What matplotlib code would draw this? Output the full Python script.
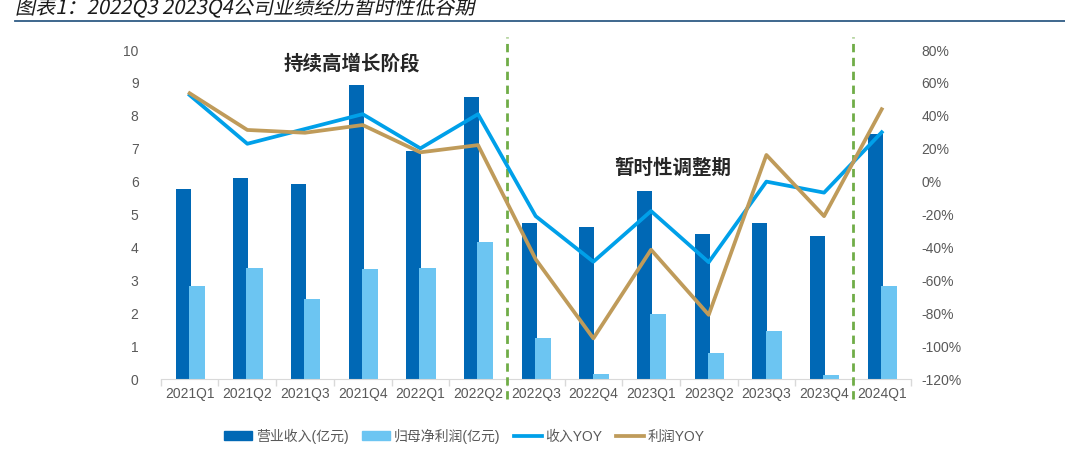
import numpy as np
import matplotlib.pyplot as plt
from matplotlib.patches import Patch, PathPatch
from matplotlib.lines import Line2D
from matplotlib.textpath import TextPath
from matplotlib.font_manager import FontProperties
from matplotlib.transforms import Affine2D
from matplotlib.ticker import FuncFormatter

plt.rcParams['font.family'] = ['Liberation Sans', 'Noto Sans CJK SC']

quarters = ['2021Q1', '2021Q2', '2021Q3', '2021Q4', '2022Q1', '2022Q2', '2022Q3',
            '2022Q4', '2023Q1', '2023Q2', '2023Q3', '2023Q4', '2024Q1']
revenue = [5.78, 6.10, 5.92, 8.94, 6.94, 8.58, 4.73, 4.63, 5.72, 4.41, 4.73, 4.36, 7.45]
profit = [2.83, 3.37, 2.42, 3.33, 3.37, 4.15, 1.25, 0.15, 1.98, 0.80, 1.47, 0.11, 2.83]
revenue_yoy = [52.6, 23.0, 32.0, 41.0, 20.2, 41.0, -21.0, -48.7, -17.9, -49.0, 0.0, -6.7, 30.0]
profit_yoy = [53.7, 31.4, 29.7, 34.4, 17.8, 22.2, -47.2, -95.3, -41.4, -81.0, 16.2, -21.0, 44.0]
dividers = [5.5, 11.5]

c_rev = '#0068B5'
c_prof = '#6CC5F2'
c_ryoy = '#00A0E9'
c_pyoy = '#BF9B5A'
c_green = '#70AD47'
c_text = '#595959'

fig = plt.figure(figsize=(10.65, 4.63), dpi=100)
ax = fig.add_axes([0.151, 0.1814, 0.704, 0.7106])
ax2 = ax.twinx()

x = np.arange(len(quarters))
ax.bar(x - 0.115, revenue, width=0.26, color=c_rev, zorder=2)
ax.bar(x + 0.125, profit, width=0.28, color=c_prof, zorder=2)

ax2.plot(x, revenue_yoy, color=c_ryoy, lw=2.7, zorder=3)
ax2.plot(x, profit_yoy, color=c_pyoy, lw=2.7, zorder=3)

ax.set_xlim(-0.5, len(quarters) - 0.5)
ax.set_ylim(0, 10)
ax.set_yticks(range(0, 11))
ax2.set_ylim(-120, 80)
ax2.set_yticks(range(-120, 81, 20))
ax2.yaxis.set_major_formatter(FuncFormatter(lambda v, p: f'{int(v)}%'))

ax.set_xticks(x)
ax.set_xticklabels(quarters)
ax.set_xticks(np.arange(-0.5, len(quarters), 1), minor=True)
ax.tick_params(axis='x', which='major', length=0, pad=6, labelsize=10, labelcolor=c_text)
ax.tick_params(axis='x', which='minor', length=5, color='#D9D9D9', width=1)
ax.tick_params(axis='y', length=0, labelsize=10, labelcolor=c_text, pad=16)
ax2.tick_params(axis='y', length=0, labelsize=10, labelcolor=c_text, pad=8)

for a in (ax, ax2):
    for side in ('top', 'left', 'right'):
        a.spines[side].set_visible(False)
ax2.spines['bottom'].set_visible(False)
ax.spines['bottom'].set_color('#D9D9D9')

for d in dividers:
    ax.axvline(d, ymin=-0.06, ymax=1.04, color=c_green, ls=(0, (3, 2)), lw=2,
               clip_on=False, zorder=4)

ax.text(2.81, 9.6, '持续高增长阶段', ha='center', va='center', fontsize=14,
        fontweight='bold', color='#262626')
ax.text(8.37, 6.41, '暂时性调整期', ha='center', va='center', fontsize=14,
        fontweight='bold', color='#262626')

# slanted title (CJK fonts have no italic face)
title = '图表1：2022Q3 2023Q4公司业绩经历暂时性低谷期'
tp = TextPath((0, 0), title, size=14.5, prop=FontProperties(family='Noto Sans CJK SC'))
tr = Affine2D().skew_deg(12, 0).scale(1 / 72.).translate(0.15, 4.63 - 0.14) + fig.dpi_scale_trans
fig.add_artist(PathPatch(tp, transform=tr, color='#1a1a1a', lw=0))
fig.add_artist(Line2D([0.014, 1.0], [0.955, 0.955], color='#2F5C85', lw=1.3))

handles = [Patch(color=c_rev), Patch(color=c_prof),
           Line2D([], [], color=c_ryoy, lw=2.7), Line2D([], [], color=c_pyoy, lw=2.7)]
labels = ['营业收入(亿元)', '归母净利润(亿元)', '收入YOY', '利润YOY']
fig.legend(handles, labels, loc='center', bbox_to_anchor=(0.436, 0.058), ncol=4,
           frameon=False, fontsize=10, labelcolor=c_text, handlelength=2.0,
           handleheight=0.6, columnspacing=1.0, handletextpad=0.25)

fig.savefig('out.png', dpi=100)
